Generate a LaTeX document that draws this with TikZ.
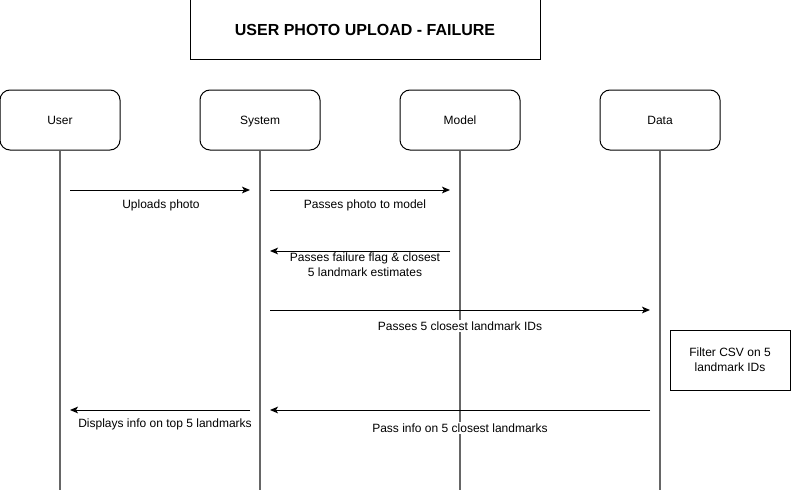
\documentclass[tikz,border=0pt]{standalone}
\usepackage{fontspec}
\setmainfont{Liberation Sans}
\usetikzlibrary{arrows.meta}
\begin{document}
\begin{tikzpicture}[x=0.75pt,y=-0.75pt,
  actor/.style={draw=black,line width=0.75pt,rounded corners=7.5pt,minimum width=90pt,minimum height=45pt,inner sep=0pt,text height=7.4pt,text depth=1pt,font=\fontsize{9}{11}\selectfont},
  plainbox/.style={draw=black,line width=0.75pt,minimum width=90pt,minimum height=45pt,inner sep=0pt,align=center,font=\fontsize{9}{11}\selectfont},
  titlebox/.style={draw=black,line width=0.75pt,minimum width=262.5pt,minimum height=45pt,inner sep=0pt,text height=10.6pt,text depth=2pt,font=\bfseries\fontsize{12}{14}\selectfont},
  lifeline/.style={draw=black!60,line width=0.9pt},
  msg/.style={draw=black,line width=0.75pt,-{Stealth[length=6pt,width=5pt,inset=1.5pt]}},
  msglabel/.style={fill=white,inner sep=1pt,align=center,font=\fontsize{9}{11}\selectfont}
]
\useasboundingbox (0,0) rectangle (791,492);
\node[titlebox] (title) at (365,30) {USER PHOTO UPLOAD - FAILURE};
\node[actor] (user) at (60,120) {User};
\node[actor] (system) at (260,120) {System};
\node[actor] (model) at (460,120) {Model};
\node[actor] (data) at (660,120) {Data};
% lifeline ends
\coordinate (userend) at (60,490);
\coordinate (systemend) at (260,490);
\coordinate (modelend) at (460,490);
\coordinate (dataend) at (660,490);
\draw[lifeline] (user.south) -- (userend);
\draw[lifeline] (system.south) -- (systemend);
\draw[lifeline] (model.south) -- (modelend);
\draw[lifeline] (data.south) -- (dataend);
% message endpoints
\coordinate (a1s) at (70,190); \coordinate (a1e) at (250,190);
\coordinate (a2s) at (270,190); \coordinate (a2e) at (450,190);
\coordinate (a3s) at (450,251); \coordinate (a3e) at (270,251);
\coordinate (a4s) at (270,310); \coordinate (a4e) at (650,310);
\coordinate (a5s) at (650,410); \coordinate (a5e) at (270,410);
\coordinate (a6s) at (250,410); \coordinate (a6e) at (70,410);
\draw[msg] (a1s) -- (a1e);
\draw[msg] (a2s) -- (a2e);
\draw[msg] (a3s) -- (a3e);
\draw[msg] (a4s) -- (a4e);
\draw[msg] (a5s) -- (a5e);
\draw[msg] (a6s) -- (a6e);
\node[msglabel] (l1) at (161,205) {Uploads photo};
\node[msglabel] (l2) at (365,205) {Passes photo to model};
\node[msglabel] (l3) at (365,265) {Passes failure flag \& closest\\5 landmark estimates};
\node[msglabel] (l4) at (460,326) {Passes 5 closest landmark IDs};
\node[msglabel] (l5) at (460,428) {Pass info on 5 closest landmarks};
\node[msglabel] (l6) at (165,424) {Displays info on top 5 landmarks};
\node[plainbox] (filter) at (730,360) {Filter CSV on 5\\landmark IDs};
\end{tikzpicture}
\end{document}
